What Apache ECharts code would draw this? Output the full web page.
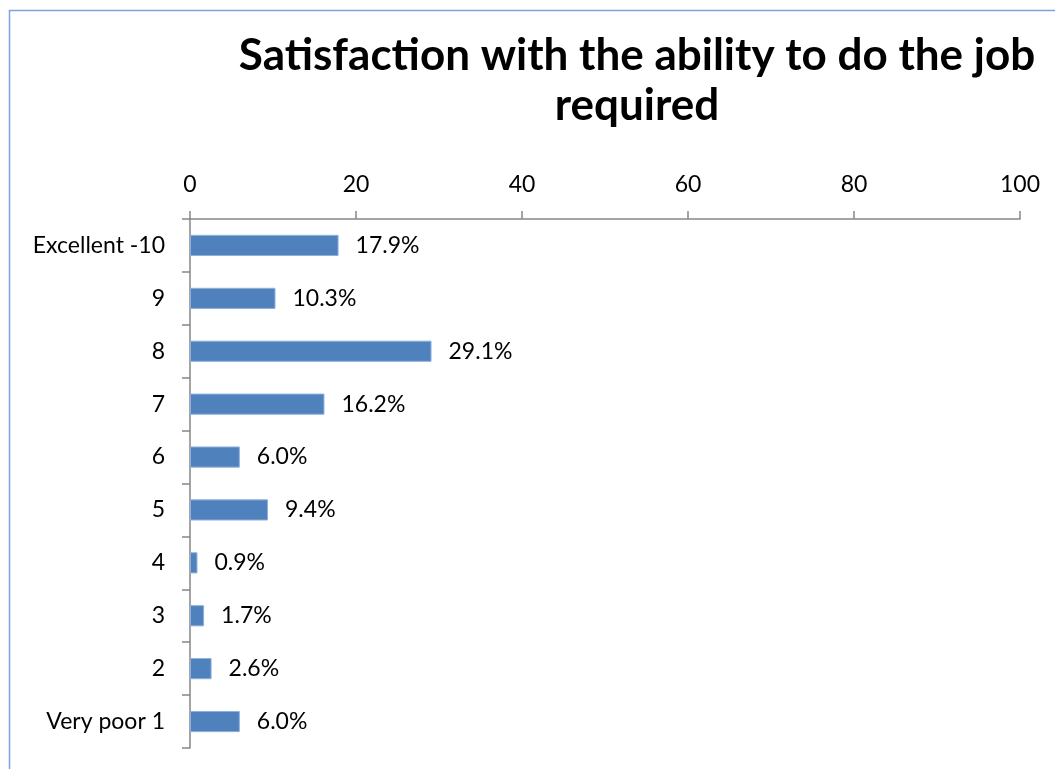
<!DOCTYPE html>
<html><head><meta charset="utf-8">
<script src="https://cdn.jsdelivr.net/npm/echarts@6/dist/echarts.min.js"></script>
<style>html,body{margin:0;padding:0;background:#fff}#c{width:1055px;height:769px}</style>
</head><body><div id="c"></div>
<script>
const categories = ['Excellent -10','9','8','7','6','5','4','3','2','Very poor 1'];
const values = [17.9, 10.3, 29.1, 16.2, 6.0, 9.4, 0.9, 1.7, 2.6, 6.0];
const titleText = 'Satisfaction with the ability to do the job\nrequired';
const FONT = 'Lato, "Open Sans", sans-serif';
const chart = echarts.init(document.getElementById('c'));
chart.setOption({
  backgroundColor: '#fff',
  animation: false,
  title: {
    text: titleText, left: 632, top: 26, textAlign: 'center',
    textStyle: {fontFamily: FONT, fontWeight: 'bold', fontSize: 44, lineHeight: 50, color: '#000'}
  },
  graphic: [{type: 'rect', shape: {x: 9.5, y: 10.5, width: 1100, height: 800},
    style: {fill: 'none', stroke: '#7BA3DB', lineWidth: 1.5}, silent: true}],
  grid: {left: 190, right: 35, top: 219, bottom: 21, containLabel: false},
  xAxis: {
    type: 'value', position: 'top', min: 0, max: 100, interval: 20,
    axisLine: {show: true, lineStyle: {color: '#868686', width: 1.5}},
    axisTick: {show: true, length: 8, inside: false, lineStyle: {color: '#868686', width: 1.5}},
    axisLabel: {margin: 23, fontFamily: FONT, fontSize: 23, color: '#000'},
    splitLine: {show: false}
  },
  yAxis: {
    type: 'category', data: categories, inverse: true,
    axisLine: {show: true, lineStyle: {color: '#868686', width: 1.5}},
    axisTick: {show: true, length: 8, lineStyle: {color: '#868686', width: 1.5}},
    axisLabel: {margin: 25, fontFamily: FONT, fontSize: 23, color: '#000'}
  },
  series: [{
    type: 'bar', data: values, barCategoryGap: '60%',
    itemStyle: {color: '#4F81BD', borderColor: '#8EB0DC', borderWidth: 1},
    label: {show: true, position: 'right', distance: 17, fontFamily: FONT, fontSize: 23, color: '#000',
      formatter: p => p.value.toFixed(1) + '%'}
  }]
});
</script></body></html>
